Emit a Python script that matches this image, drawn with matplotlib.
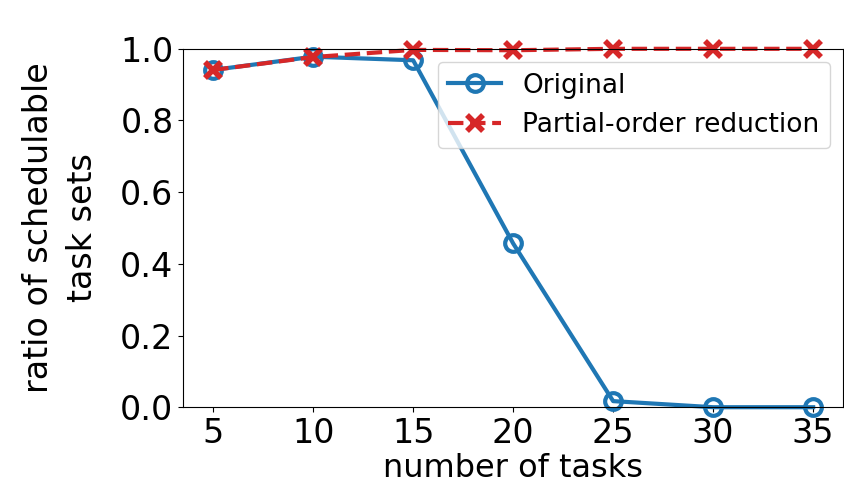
import matplotlib
matplotlib.use("Agg")
import matplotlib.pyplot as plt

# number of tasks per task set
num_tasks = [5, 10, 15, 20, 25, 30, 35]

# ratio of schedulable task sets
original = [0.941, 0.978, 0.968, 0.457, 0.017, 0.0, 0.0]
partial_order = [0.941, 0.977, 0.997, 0.996, 1.0, 1.0, 1.0]

fig, ax = plt.subplots(figsize=(8.44, 4.93), dpi=100)
fig.subplots_adjust(left=0.217, right=0.999, top=0.901, bottom=0.174)

ax.plot(num_tasks, original, color="tab:blue", lw=3, marker="o",
        ms=12, mew=3, fillstyle="none", label="Original", clip_on=False)
ax.plot(num_tasks, partial_order, color="tab:red", lw=3, ls="--", marker="x",
        ms=12, mew=4, label="Partial-order reduction", clip_on=False)

ax.set_ylim(0, 1.0)
ax.set_xticks(num_tasks)
ax.tick_params(labelsize=24)
ax.set_xlabel("number of tasks", fontsize=23, labelpad=2)
ax.set_ylabel("ratio of schedulable\ntask sets", fontsize=24,
              linespacing=1.45, labelpad=15)
ax.legend(loc="upper right", fontsize=19)

plt.savefig("out.png")
